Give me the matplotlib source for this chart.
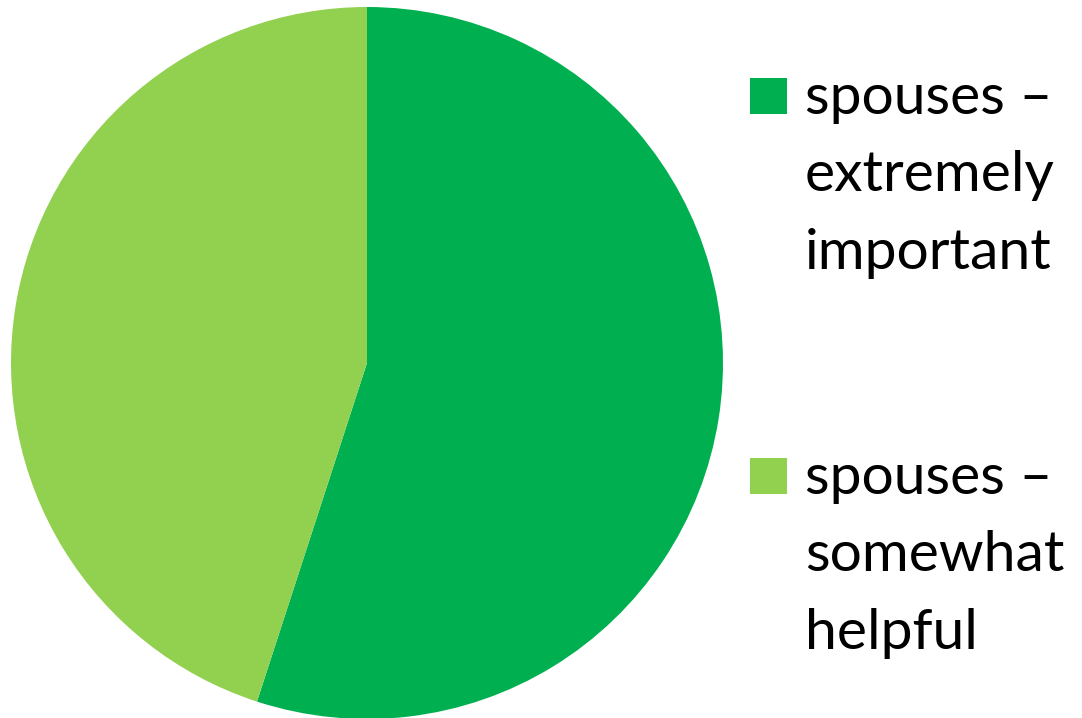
import matplotlib.pyplot as plt
from matplotlib.patches import Rectangle

# data
labels = ["spouses –\nextremely\nimportant", "spouses –\nsomewhat\nhelpful"]
values = [55, 45]
colors = ["#00B050", "#92D050"]

W, H = 1082, 718
fig = plt.figure(figsize=(W / 100, H / 100), dpi=100)
ax = fig.add_axes([11 / W, (718 - 363 - 356) / H, 712 / W, 712 / H])

ax.pie(values, colors=colors, startangle=90, counterclock=False,
       wedgeprops=dict(linewidth=0))
ax.set_xlim(-1, 1)
ax.set_ylim(-1, 1)
ax.set_aspect("equal")

# legend: square next to first line of each label
baselines = [115, 495]  # first-line baseline, pixel rows from top
line_px = 77
for lab, col, yb in zip(labels, colors, baselines):
    fig.add_artist(Rectangle((750 / W, 1 - (yb - 1) / H), 37 / W, 36 / H,
                             transform=fig.transFigure, facecolor=col,
                             edgecolor="none"))
    last = yb + 2 * line_px
    fig.text(805 / W, 1 - last / H, lab, va="baseline", ha="left",
             family="Lato", fontsize=41, linespacing=1.65)

fig.savefig("out.png", dpi=100)
